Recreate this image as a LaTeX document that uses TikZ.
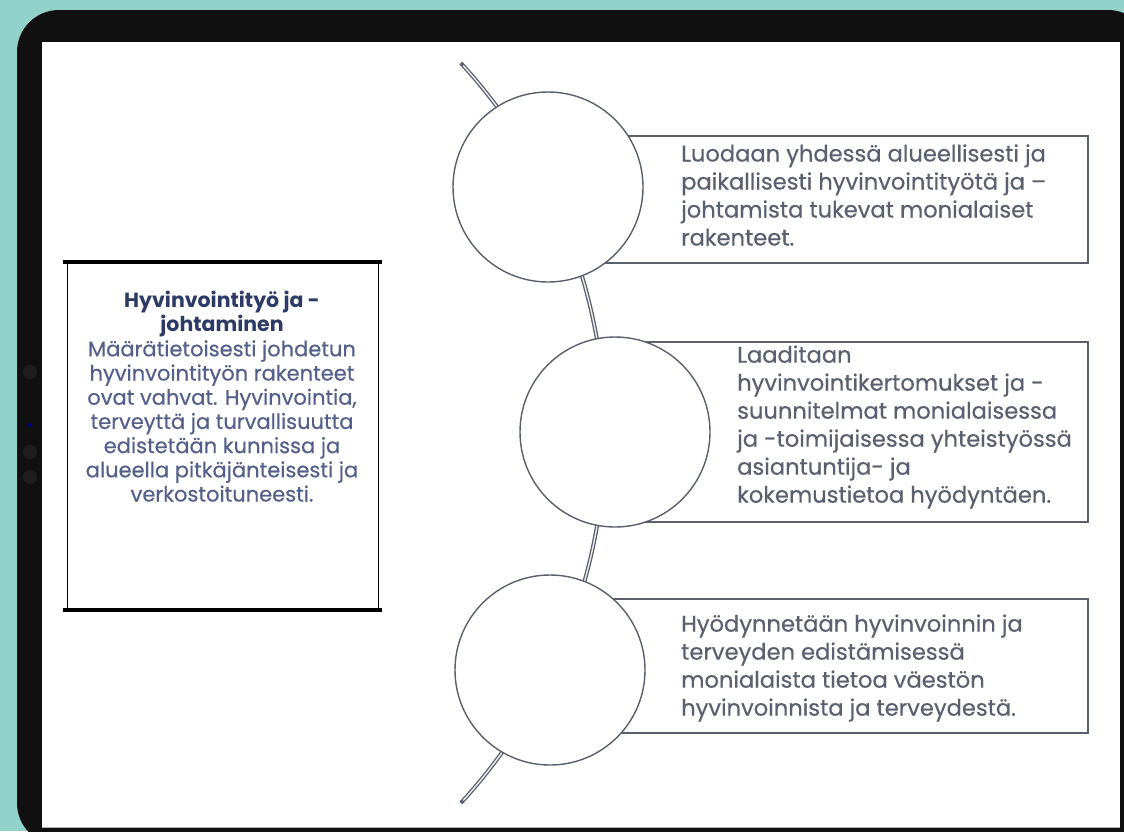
\documentclass[tikz,border=0pt]{standalone}
\usepackage{fontspec}
\setmainfont{Poppins}
\newfontfamily\medfont{Poppins}[FakeBold=0.4]
\definecolor{teal}{HTML}{93D2CA}
\definecolor{frameblack}{HTML}{101010}
\definecolor{linegray}{HTML}{5A5F6E}
\definecolor{txtgray}{HTML}{5B6070}
\definecolor{navy}{HTML}{2D3A66}
\definecolor{bluegray}{HTML}{54608A}
\definecolor{dotc}{HTML}{1E1E1E}
\tikzset{
  bubble/.style={circle, draw=linegray, line width=1.4pt, fill=white, minimum size=190pt, inner sep=0pt},
  infobox/.style={draw=linegray, line width=1.4pt},
  infotext/.style={anchor=west, align=left, text=txtgray, font=\medfont\fontsize{22.6}{28}\selectfont, inner sep=0pt},
}
\begin{document}
\begin{tikzpicture}[x=1pt,y=-1pt]
\useasboundingbox (0,0) rectangle (1124,831);
% background and tablet
\fill[teal] (0,0) rectangle (1124,831);
\fill[frameblack, rounded corners=42pt] (17,10) rectangle (1150,845);
\fill[white] (42,42) rectangle (1120,827);
\draw[gray!60, line width=0.8pt] (42,827) -- (1120,827);
\foreach \yy in {372, 452, 477}{
  \fill[dotc] (30,\yy) circle (7);
}
\fill[blue!50!black] (30,425) circle (2);

% left box
\node[draw=black, line width=1pt, minimum width=311pt, minimum height=347pt, inner sep=0pt] (L) at (222.5,435.5) {};
\draw[line width=4pt, black] ([xshift=-4pt]L.north west) -- ([xshift=3pt]L.north east);
\draw[line width=4pt, black] ([xshift=-4pt]L.south west) -- ([xshift=3pt]L.south east);
\node[align=center, text=navy, font=\fontsize{20.5}{24}\selectfont\bfseries, inner sep=0pt] (Lt) at (222,314) {Hyvinvointityö ja -\\johtaminen};
\node[align=center, text=bluegray, font=\medfont\fontsize{21}{24.2}\selectfont, inner sep=0pt] (Lb) at (222,421) {Määrätietoisesti johdetun\\hyvinvointityön rakenteet\\ovat vahvat. Hyvinvointia,\\terveyttä ja turvallisuutta\\edistetään kunnissa ja\\alueella pitkäjänteisesti ja\\verkostoituneesti.};

% spine
\draw[linegray, line width=4pt] plot[domain=-42.56:42.56, samples=80, smooth] ({58+547*cos(\x)},{433+547*sin(\x)});
\draw[white!85!gray, line width=1.4pt] plot[domain=-42.2:42.2, samples=80, smooth] ({58+547*cos(\x)},{433+547*sin(\x)});

% right boxes
\draw[infobox] (548,136) rectangle (1088,263);
\draw[infobox] (615,342) rectangle (1088,522);
\draw[infobox] (550,599) rectangle (1088,733);

% circles
\node[bubble] (c1) at (548,187) {};
\node[bubble] (c2) at (615,432) {};
\node[bubble] (c3) at (550,670) {};

% texts
\node[infotext] (t1) at (681,195) {Luodaan yhdessä alueellisesti ja\\paikallisesti hyvinvointityötä ja –\\johtamista tukevat monialaiset\\rakenteet.};
\node[infotext] (t2) at (737,427) {Laaditaan\\hyvinvointikertomukset ja -\\suunnitelmat monialaisessa\\ja -toimijaisessa yhteistyössä\\asiantuntija- ja\\kokemustietoa hyödyntäen.};
\node[infotext] (t3) at (681,668) {Hyödynnetään hyvinvoinnin ja\\terveyden edistämisessä\\monialaista tietoa väestön\\hyvinvoinnista ja terveydestä.};
\end{tikzpicture}
\end{document}
